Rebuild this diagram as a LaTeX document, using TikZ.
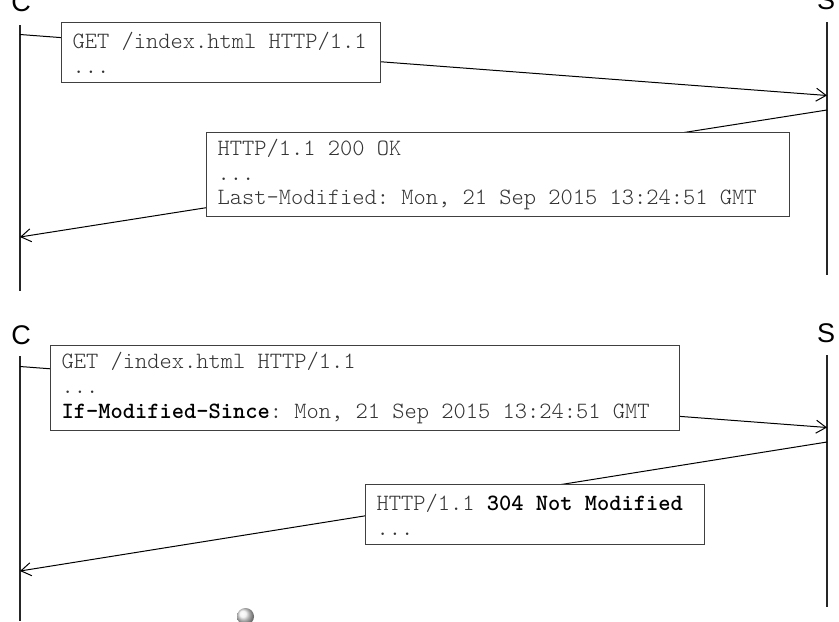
\documentclass[tikz,border=0pt]{standalone}
\usepackage{fontspec}
\setmainfont{Liberation Sans}
\usetikzlibrary{arrows.meta}
\definecolor{txt}{HTML}{333333}
\definecolor{boxc}{HTML}{404040}
\newcommand{\msgfont}{\ttfamily\fontseries{l}\selectfont\fontsize{11.67}{12.4}\selectfont}
\begin{document}
\begin{tikzpicture}[x=0.5pt,y=-0.5pt,
  actor/.style={font=\fontsize{13.5}{16}\selectfont, inner sep=0pt, text=black},
  life/.style={line width=0.6pt, draw=black!85},
  msg/.style={line width=0.5pt, draw=black},
  arr/.style={msg, -{Straight Barb[length=5pt,width=6.5pt]}},
  msgbox/.style={draw=boxc, line width=0.55pt, fill=white, anchor=north west,
    inner xsep=5.5pt, inner ysep=0pt, align=left, text=txt, font=\msgfont,
    execute at begin node={\spaceskip=6.127pt\xspaceskip=6.127pt\relax}}]
\clip (0,0) rectangle (839,621);
\fill[white] (0,0) rectangle (839,621);

% ---------- panel 1 ----------
\node[actor] (C1) at (21,2) {C};
\node[actor] (S1) at (826,0) {S};
\coordinate (c1t) at (20,25);  \coordinate (c1b) at (20,291);
\coordinate (s1t) at (827,22); \coordinate (s1b) at (827,275);
\draw[life] (c1t) -- (c1b);
\draw[life] (s1t) -- (s1b);

\coordinate (c1a) at (20,34.5);  \coordinate (s1a) at (827,95.5);
\coordinate (s1r) at (827,110);  \coordinate (c1r) at (20,237);
\draw[arr] (c1a) -- (s1a);
\draw[arr] (s1r) -- (c1r);

\node[msgbox, minimum height=30pt, text width=148.5pt] (req1) at (61,22)
  {GET /index.html HTTP/1.1\\...};
\node[msgbox, minimum height=42pt, text width=280.5pt] (res1) at (206,132)
  {HTTP/1.1 200 OK\\...\\Last-Modified: Mon, 21 Sep 2015 13:24:51 GMT};

% ---------- panel 2 ----------
\node[actor] (C2) at (21,335) {C};
\node[actor] (S2) at (826,333) {S};
\coordinate (c2t) at (20,356);  \coordinate (c2b) at (20,621);
\coordinate (s2t) at (827,355); \coordinate (s2b) at (827,607);
\draw[life] (c2t) -- (c2b);
\draw[life] (s2t) -- (s2b);

\coordinate (c2a) at (20,366.5); \coordinate (s2a) at (827,427.5);
\coordinate (s2r) at (827,442);  \coordinate (c2r) at (20,571);
\draw[arr] (c2a) -- (s2a);
\draw[arr] (s2r) -- (c2r);

\node[msgbox, minimum height=42.5pt, text width=303.5pt] (req2) at (50,345)
  {GET /index.html HTTP/1.1\\...\\\textcolor{black}{\bfseries If-Modified-Since}: Mon, 21 Sep 2015 13:24:51 GMT};
\node[msgbox, minimum height=30pt, text width=158.5pt] (res2) at (365,484)
  {HTTP/1.1 \textcolor{black}{\bfseries 304 Not Modified}\\...};

% small grey ball at the bottom edge
\shade[ball color=gray!12] (245.5,616.5) circle (8.5);
\end{tikzpicture}
\end{document}
